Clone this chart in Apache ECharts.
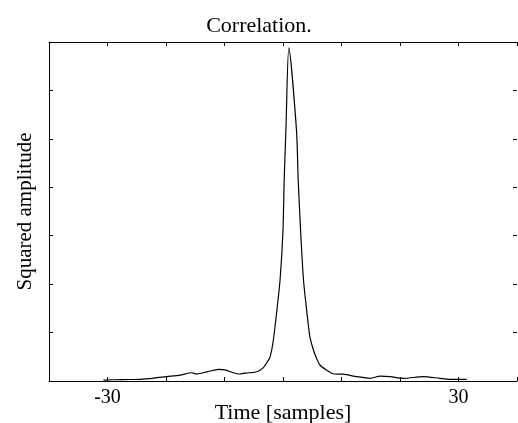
<!DOCTYPE html>
<html>
<head>
<meta charset="utf-8">
<script src="https://cdn.jsdelivr.net/npm/echarts@6/dist/echarts.min.js"></script>
<style>html,body{margin:0;padding:0;background:#fff;}#c{width:518px;height:423px;}</style>
</head>
<body>
<div id="c"></div>
<script>
var titleText = 'Correlation.';
var xName = 'Time [samples]';
var yName = 'Squared amplitude';
var xTickLabels = [-30, 30];
var timeSamples = [-30.7, -27.5, -24.4, -22, -19.9, -17.6, -15.6, -14.8, -13.0, -11.0, -9.9, -8.5, -7.4, -5.9, -4.5, -3.4, -2.5, -2.2, -1.7, -1.1, -0.5, 0.0, 0.2, 0.5, 1.0, 2.3, 2.6, 3.0, 3.5, 4.1, 4.6, 5.2, 5.8, 6.3, 7.5, 8.5, 10.3, 12.6, 14.9, 16.6, 18.3, 20.6, 24.0, 26.8, 28.5, 31.4];
var squaredAmp = [0.02, 0.03, 0.035, 0.06, 0.09, 0.12, 0.17, 0.145, 0.19, 0.24, 0.23, 0.17, 0.145, 0.17, 0.19, 0.27, 0.43, 0.50, 0.80, 1.40, 2.09, 3.12, 4.15, 5.19, 6.88, 5.19, 4.15, 3.12, 2.09, 1.40, 0.91, 0.64, 0.45, 0.33, 0.22, 0.15, 0.14, 0.09, 0.055, 0.10, 0.09, 0.055, 0.09, 0.055, 0.035, 0.035];

var pts = timeSamples.map(function (t, i) { return [t, squaredAmp[i]]; });
var font = 'Liberation Serif';
var chart = echarts.init(document.getElementById('c'), null, {renderer: 'canvas'});
var tickStyle = {show: true, inside: true, length: 4, lineStyle: {color: '#000', width: 1}};
chart.setOption({
  animation: false,
  backgroundColor: '#fff',
  title: {text: titleText, left: 'center', top: 10, textStyle: {fontFamily: font, fontSize: 22, fontWeight: 'normal', color: '#000'}},
  grid: {left: 49, right: 1, top: 42, bottom: 42, containLabel: false, outerBoundsMode: 'none'},
  xAxis: [{
    type: 'value', min: -40, max: 40, interval: 10, position: 'bottom',
    name: xName, nameLocation: 'middle', nameGap: 21, nameMoveOverlap: false,
    nameTextStyle: {fontFamily: font, fontSize: 22, color: '#000'},
    axisLine: {show: true, onZero: false, lineStyle: {color: '#000', width: 1}},
    axisTick: tickStyle,
    axisLabel: {margin: 7, fontFamily: font, fontSize: 20, color: '#000',
      formatter: function (v) { return xTickLabels.indexOf(v) >= 0 ? String(v) : ''; }},
    splitLine: {show: false}
  }, {
    type: 'value', min: -40, max: 40, interval: 10, position: 'top',
    axisLine: {show: true, onZero: false, lineStyle: {color: '#000', width: 1}},
    axisTick: tickStyle, axisLabel: {show: false}, splitLine: {show: false}
  }],
  yAxis: [{
    type: 'value', min: 0, max: 7, interval: 1, position: 'left',
    name: yName, nameLocation: 'middle', nameGap: 13, nameMoveOverlap: false,
    nameTextStyle: {fontFamily: font, fontSize: 21, color: '#000'},
    axisLine: {show: true, onZero: false, lineStyle: {color: '#000', width: 1}},
    axisTick: tickStyle, axisLabel: {show: false}, splitLine: {show: false}
  }, {
    type: 'value', min: 0, max: 7, interval: 1, position: 'right',
    axisLine: {show: false, onZero: false},
    axisTick: tickStyle, axisLabel: {show: false}, splitLine: {show: false}
  }],
  series: [{
    type: 'line', data: pts, showSymbol: false, smooth: 0.25,
    lineStyle: {color: '#000', width: 1.2}
  }]
});
</script>
</body>
</html>
